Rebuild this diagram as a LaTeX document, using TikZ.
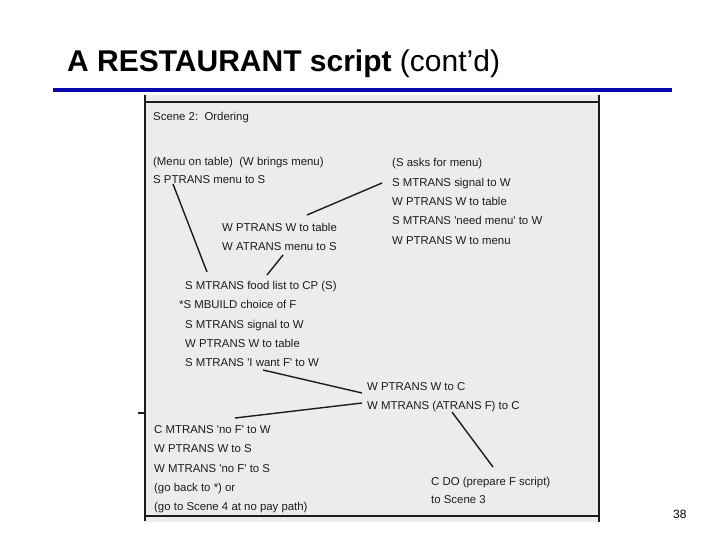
\documentclass[tikz,border=0pt]{standalone}
\usepackage{fontspec}
\setmainfont{Liberation Sans}
\definecolor{titleblue}{RGB}{8,8,176}
\definecolor{panelgray}{RGB}{236,236,236}
\definecolor{ink}{RGB}{28,28,28}
\newcommand{\sq}{\textquotesingle}
\tikzset{
  txt/.style={anchor=base west, inner sep=0pt, text=ink, font=\fontsize{11.4}{13}\selectfont},
  link/.style={draw=ink, line width=1.4pt},
  frame/.style={draw=ink, line width=1.6pt}
}
\begin{document}
\begin{tikzpicture}[x=1pt,y=-1pt]
\useasboundingbox (0,0) rectangle (720,540);
% title
\node[anchor=base west, inner sep=0pt, font=\fontsize{30}{31}\selectfont] (title) at (67,72)
  {\bfseries A RESTAURANT script \mdseries(cont’d)};
\draw[titleblue, line width=4pt] (53,90) -- (672,90);
% panel
\fill[panelgray] (145,95) rectangle (599,522);
\draw[frame] (145,95) -- (145,521);
\draw[frame] (599,95) -- (599,522);
\draw[frame] (145,102) -- (599,102);
\draw[frame] (145,516) -- (599,516);
\draw[frame] (138,413) -- (145,413);
% texts
\node[txt] (scene) at (153,121) {Scene 2:\ \ Ordering};
\node[txt] (menu) at (153,165.5) {(Menu on table)\ \ (W brings menu)};
\node[txt] (sptrans) at (153,184) {S PTRANS menu to S};
\node[txt] (r1) at (392,167) {(S asks for menu)};
\node[txt] (r2) at (392,186.3) {S MTRANS signal to W};
\node[txt] (r3) at (392,205.6) {W PTRANS W to table};
\node[txt] (r4) at (392,224.9) {S MTRANS \sq need menu\sq\ to W};
\node[txt] (r5) at (392,244.2) {W PTRANS W to menu};
\node[txt] (m1) at (222,231) {W PTRANS W to table};
\node[txt] (m2) at (222,250) {W ATRANS menu to S};
\node[txt] (l1) at (185,289) {S MTRANS food list to CP (S)};
\node[txt] (l2) at (179,308.5) {*S MBUILD choice of F};
\node[txt] (l3) at (185,328) {S MTRANS signal to W};
\node[txt] (l4) at (185,347) {W PTRANS W to table};
\node[txt] (l5) at (185,366.5) {S MTRANS \sq I want F\sq\ to W};
\node[txt] (c1) at (367,390) {W PTRANS W to C};
\node[txt] (c2) at (367,409) {W MTRANS (ATRANS F) to C};
\node[txt] (b1) at (154,433) {C MTRANS \sq no F\sq\ to W};
\node[txt] (b2) at (154,452.5) {W PTRANS W to S};
\node[txt] (b3) at (154,472) {W MTRANS \sq no F\sq\ to S};
\node[txt] (b4) at (154,491) {(go back to *) or};
\node[txt] (b5) at (154,510) {(go to Scene 4 at no pay path)};
\node[txt] (d1) at (431,485) {C DO (prepare F script)};
\node[txt] (d2) at (431,503.5) {to Scene 3};
\node[anchor=base west, inner sep=0pt, font=\fontsize{12}{14}\selectfont] (page) at (673,518) {38};
% connector end points
\coordinate (a1) at (173,184);
\coordinate (a2) at (207,272);
\coordinate (b1s) at (307,215);
\coordinate (b1e) at (382,183);
\coordinate (c1s) at (283,255);
\coordinate (c1e) at (267,275);
\coordinate (d1s) at (263,370);
\coordinate (d1e) at (362,393);
\coordinate (e1s) at (362,403);
\coordinate (e1e) at (235,418);
\coordinate (f1s) at (452,412);
\coordinate (f1e) at (493,467);
\draw[link] (a1) -- (a2);
\draw[link] (b1s) -- (b1e);
\draw[link] (c1s) -- (c1e);
\draw[link] (d1s) -- (d1e);
\draw[link] (e1s) -- (e1e);
\draw[link] (f1s) -- (f1e);
\end{tikzpicture}
\end{document}
